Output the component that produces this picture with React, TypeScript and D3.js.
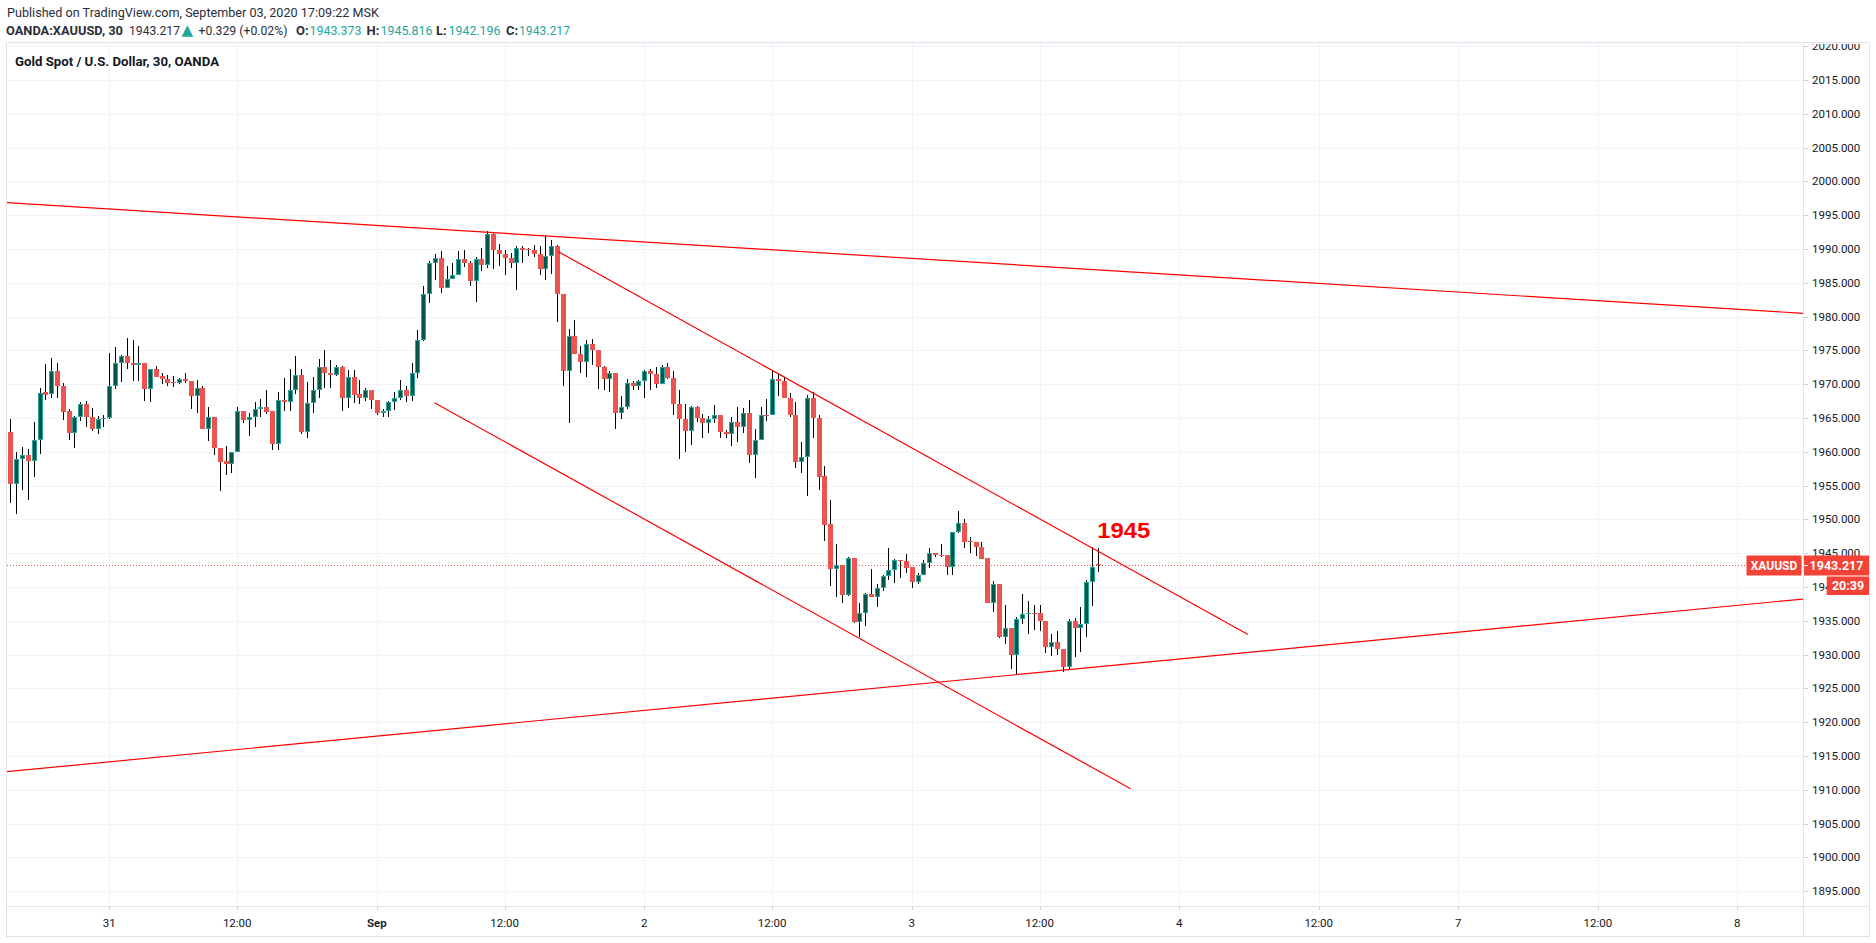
import * as d3 from "d3";

// OANDA:XAUUSD 30m, bars indexed from Aug 31 01:00 (index 0)
const FIRST_INDEX = -17;

const opens = [
  1963.0, 1955.3, 1959.0, 1959.5, 1958.7, 1961.7, 1968.8, 1968.5, 1971.9, 1969.7, 1966.0, 1962.8, 1965.1, 1967.0, 1965.2, 1963.4, 1964.8,
  1965.0, 1969.7, 1973.2, 1974.1, 1973.2, 1972.9, 1973.1, 1969.3, 1972.2, 1971.2, 1970.7, 1970.3, 1970.2, 1970.7, 1970.4, 1968.2,
  1969.5, 1963.4, 1965.2, 1960.6, 1958.6, 1958.2, 1959.9, 1966.1, 1964.7, 1965.1, 1966.4, 1966.6, 1966.0, 1961.1, 1967.7, 1967.3,
  1969.1, 1971.4, 1963.0, 1967.2, 1969.1, 1972.6, 1971.7, 1971.4, 1972.5, 1968.0, 1971.1, 1968.5, 1967.9, 1969.2, 1967.6, 1965.7,
  1966.1, 1967.3, 1968.0, 1969.1, 1968.2, 1971.6, 1976.5, 1983.3, 1987.9, 1988.6, 1984.3, 1985.5, 1986.2, 1988.5, 1988.0, 1985.2,
  1988.5, 1987.7, 1992.2, 1989.9, 1989.3, 1988.7, 1988.0, 1990.1, 1989.95, 1989.9, 1989.3, 1987.0, 1989.0, 1990.4, 1983.3, 1971.9,
  1977.2, 1974.5, 1973.3, 1975.9, 1975.0, 1972.6, 1970.7, 1971.6, 1965.7, 1966.7, 1970.2, 1969.8, 1970.4, 1971.9, 1971.5, 1970.0,
  1972.6, 1970.9, 1967.0, 1964.8, 1963.1, 1966.7, 1965.0, 1964.2, 1964.9, 1965.5, 1962.9, 1962.6, 1964.4, 1963.6, 1965.7, 1959.6,
  1961.8, 1965.5, 1965.4, 1970.7, 1970.4, 1968.0, 1965.4, 1958.5, 1959.2, 1968.0, 1965.0, 1956.4, 1949.3, 1942.6, 1943.3, 1938.8,
  1944.3, 1934.8, 1936.2, 1938.9, 1938.5, 1939.9, 1941.6, 1942.5, 1944.0, 1943.8, 1942.9, 1940.7, 1941.8, 1943.6, 1945.0, 1944.8,
  1944.7, 1943.0, 1948.2, 1949.4, 1946.8, 1946.6, 1945.9, 1944.3, 1937.7, 1940.5, 1932.6, 1933.9, 1930.0, 1935.2, 1936.0, 1936.2,
  1936.1, 1934.9, 1931.1, 1931.9, 1930.9, 1928.2, 1934.9, 1934.0, 1934.5, 1940.7, 1943.373,
];

const highs = [
  1964.8, 1960.0, 1960.7, 1960.4, 1964.4, 1969.5, 1973.0, 1973.9, 1973.1, 1970.2, 1966.3, 1965.3, 1967.3, 1967.5, 1966.5, 1965.3, 1965.4,
  1974.6, 1975.5, 1974.3, 1976.8, 1976.5, 1975.6, 1973.2, 1972.2, 1972.7, 1971.6, 1971.4, 1971.2, 1970.9, 1971.6, 1970.4, 1970.6,
  1969.7, 1966.6, 1965.2, 1960.6, 1960.9, 1959.9, 1966.6, 1966.1, 1965.8, 1967.4, 1967.8, 1969.1, 1966.0, 1968.8, 1970.9, 1972.2,
  1974.2, 1972.2, 1970.3, 1971.0, 1973.7, 1975.0, 1973.6, 1972.8, 1972.7, 1972.1, 1972.1, 1970.6, 1969.4, 1969.2, 1967.6, 1966.3,
  1967.5, 1968.9, 1970.6, 1969.7, 1973.2, 1978.0, 1984.5, 1988.2, 1989.3, 1989.7, 1987.5, 1988.0, 1989.7, 1989.9, 1988.2, 1988.8,
  1990.2, 1992.6, 1992.3, 1990.7, 1989.9, 1989.4, 1990.4, 1990.4, 1990.1, 1990.6, 1990.4, 1991.9, 1991.3, 1990.6, 1983.3, 1978.2,
  1979.5, 1975.7, 1976.6, 1976.7, 1975.0, 1972.7, 1972.0, 1971.6, 1968.3, 1970.7, 1970.5, 1970.6, 1972.1, 1972.2, 1972.6, 1972.9,
  1973.2, 1972.0, 1969.1, 1967.0, 1966.8, 1966.8, 1965.6, 1965.3, 1966.9, 1965.5, 1963.2, 1965.2, 1966.7, 1966.5, 1967.6, 1963.3,
  1966.7, 1967.8, 1972.0, 1971.5, 1971.0, 1968.7, 1967.4, 1961.4, 1968.4, 1968.9, 1965.5, 1957.9, 1952.8, 1946.3, 1943.3, 1944.5,
  1944.3, 1937.6, 1939.1, 1942.6, 1940.5, 1941.75, 1945.7, 1944.2, 1944.0, 1944.9, 1943.0, 1942.0, 1944.0, 1945.7, 1945.1, 1946.3,
  1944.7, 1948.2, 1951.2, 1950.0, 1947.4, 1946.6, 1946.7, 1944.3, 1940.9, 1940.5, 1937.4, 1933.9, 1935.5, 1938.9, 1937.9, 1937.4,
  1937.3, 1934.9, 1933.0, 1933.5, 1930.9, 1935.2, 1935.35, 1937.1, 1941.1, 1945.9, 1945.816,
];

const lows = [
  1952.5, 1950.8, 1954.3, 1952.8, 1956.2, 1959.7, 1967.6, 1968.0, 1967.9, 1964.7, 1961.8, 1960.5, 1964.5, 1963.6, 1963.1, 1962.6, 1963.7,
  1964.9, 1969.3, 1970.3, 1972.2, 1970.5, 1970.5, 1967.5, 1967.4, 1971.0, 1970.1, 1969.7, 1969.6, 1970.1, 1970.2, 1966.4, 1965.8,
  1963.3, 1961.6, 1959.6, 1954.2, 1956.5, 1956.9, 1959.9, 1964.2, 1962.3, 1963.6, 1965.1, 1965.6, 1960.2, 1960.3, 1966.0, 1966.0,
  1968.6, 1962.7, 1962.1, 1965.7, 1967.9, 1969.5, 1969.4, 1971.2, 1966.0, 1966.5, 1967.2, 1967.1, 1967.5, 1966.3, 1965.5, 1965.2,
  1965.2, 1966.2, 1967.6, 1967.4, 1967.5, 1970.9, 1976.4, 1982.0, 1985.4, 1983.5, 1984.3, 1985.5, 1986.1, 1987.3, 1984.5, 1982.2,
  1986.7, 1987.2, 1987.1, 1987.5, 1986.1, 1987.2, 1984.0, 1988.0, 1988.9, 1988.8, 1986.1, 1985.4, 1986.3, 1979.2, 1969.7, 1964.3,
  1974.5, 1971.7, 1971.0, 1972.9, 1969.3, 1969.2, 1968.8, 1963.3, 1964.9, 1966.3, 1969.2, 1969.1, 1968.0, 1969.2, 1969.5, 1970.0,
  1970.8, 1965.5, 1958.9, 1959.9, 1961.0, 1964.4, 1962.1, 1962.8, 1964.2, 1962.1, 1962.1, 1960.8, 1961.5, 1962.8, 1958.3, 1956.1,
  1961.7, 1964.6, 1965.4, 1968.2, 1967.9, 1965.2, 1957.6, 1956.9, 1953.4, 1962.1, 1954.3, 1946.8, 1940.1, 1938.5, 1937.6, 1938.7,
  1934.7, 1932.6, 1934.3, 1938.5, 1937.1, 1939.4, 1941.1, 1940.6, 1941.4, 1942.0, 1939.9, 1940.4, 1941.75, 1942.8, 1944.5, 1944.5,
  1941.75, 1941.75, 1948.0, 1945.7, 1945.1, 1944.6, 1944.1, 1937.6, 1936.3, 1932.4, 1931.6, 1927.8, 1927.2, 1934.6, 1933.0, 1933.6,
  1933.5, 1930.2, 1929.8, 1929.9, 1927.5, 1927.7, 1929.7, 1930.4, 1932.6, 1937.2, 1942.196,
];

const closes = [
  1955.3, 1959.0, 1959.5, 1958.7, 1961.7, 1968.7, 1968.4, 1971.9, 1969.7, 1965.9, 1962.8, 1965.1, 1967.0, 1965.2, 1963.4, 1964.8, 1965.0,
  1969.7, 1973.2, 1974.1, 1973.2, 1972.9, 1973.1, 1969.3, 1972.2, 1971.1, 1970.7, 1970.2, 1970.2, 1970.7, 1970.4, 1968.2, 1969.5,
  1963.4, 1965.2, 1960.5, 1958.5, 1958.2, 1959.9, 1966.1, 1964.7, 1965.1, 1966.4, 1966.6, 1965.9, 1961.1, 1967.6, 1967.3, 1969.1,
  1971.4, 1963.0, 1967.2, 1969.1, 1972.6, 1971.7, 1971.4, 1972.5, 1968.0, 1971.1, 1968.4, 1967.9, 1969.2, 1967.6, 1965.7, 1966.1,
  1967.3, 1968.0, 1969.1, 1968.2, 1971.6, 1976.5, 1983.3, 1987.9, 1988.6, 1984.3, 1985.5, 1986.2, 1988.5, 1988.0, 1985.2, 1988.5,
  1987.7, 1992.2, 1989.9, 1989.3, 1988.7, 1988.0, 1990.1, 1989.9, 1989.9, 1989.3, 1987.0, 1989.0, 1990.4, 1983.3, 1971.9, 1977.2,
  1974.5, 1973.3, 1975.9, 1975.0, 1972.6, 1970.7, 1971.6, 1965.7, 1966.7, 1970.2, 1969.8, 1970.4, 1971.9, 1971.5, 1970.0, 1972.6,
  1970.9, 1967.0, 1964.8, 1963.1, 1966.7, 1965.0, 1964.2, 1964.9, 1965.5, 1962.9, 1962.6, 1964.4, 1963.6, 1965.7, 1959.6, 1961.8,
  1965.5, 1965.4, 1970.7, 1970.4, 1968.0, 1965.4, 1958.5, 1959.2, 1968.0, 1965.0, 1956.2, 1949.2, 1942.6, 1943.3, 1938.8, 1944.3,
  1934.8, 1936.2, 1938.9, 1938.5, 1939.9, 1941.6, 1942.5, 1944.0, 1943.8, 1942.8, 1940.7, 1941.8, 1943.6, 1945.0, 1944.8, 1944.6,
  1943.0, 1948.2, 1949.4, 1946.7, 1946.6, 1945.9, 1944.2, 1937.7, 1940.5, 1932.6, 1933.9, 1930.0, 1935.2, 1936.0, 1936.2, 1936.0,
  1934.9, 1931.1, 1931.9, 1930.9, 1928.2, 1934.9, 1934.0, 1934.5, 1940.7, 1942.888, 1943.217,
];

const timeTickIndex = [0, 22, 46, 68, 92, 114, 138, 160, 184, 208, 232, 256, 280];
const timeTickLabels = ["31", "12:00", "Sep", "12:00", "2", "12:00", "3", "12:00", "4", "12:00", "7", "12:00", "8"];
const priceTicks = d3.range(1895, 2021, 5);

const lastPrice = 1943.217;

// drawn lines: [bar index, price]
const trendLines = [
  [[-17.6, 1996.85], [291.3, 1980.49]],
  [[77.17, 1989.63], [195.84, 1932.97]],
  [[55.92, 1967.26], [175.65, 1910.15]],
  [[-17.6, 1912.68], [291.3, 1938.22]],
];
const note = { index: 169.9, price: 1947.2, text: "1945" };

const RED = "#ef5350";
const GREEN = "#26a69a";
const GREEN_FILL = "#075548";
const GRID = "#f0f3fa";
const BORDER = "#e0e3eb";
const TEXT = "#131722";
const FONT = "Roboto, 'Open Sans', sans-serif";

export default function App() {
  const W = 1876;
  const H = 943;
  const pane = { left: 7, right: 1803, top: 43, bottom: 907 };
  const axisRight = 1869;
  const axisBottom = 936;

  const x = d3.scaleLinear().domain([0, 138]).range([109.3, 911.7]);
  const y = d3.scaleLinear().domain([1895, 2020]).range([891.2, 46.2]);

  const candles = opens.map((o, k) => ({
    i: FIRST_INDEX + k,
    o,
    h: highs[k],
    l: lows[k],
    c: closes[k],
  }));

  const yLast = Math.round(y(lastPrice));

  return (
    <svg
      width={W}
      height={H}
      style={{ position: "absolute", left: 0, top: 0, background: "#fff" }}
      fontFamily={FONT}
    >
      <defs>
        <clipPath id="pane">
          <rect x={pane.left} y={pane.top} width={pane.right - pane.left} height={pane.bottom - pane.top} />
        </clipPath>
        <clipPath id="yaxis">
          <rect x={pane.right} y={pane.top + 1} width={axisRight - pane.right} height={pane.bottom - pane.top - 1} />
        </clipPath>
      </defs>

      {/* header */}
      <text x={7} y={17.3} fontSize={13} fill="#2a2e39" textLength={372} lengthAdjust="spacingAndGlyphs">
        Published on TradingView.com, September 03, 2020 17:09:22 MSK
      </text>
      <g fontSize={13} fill="#2a2e39">
        <text x={6} y={34.5} fontWeight={700} textLength={117} lengthAdjust="spacingAndGlyphs">OANDA:XAUUSD, 30</text>
        <text x={129} y={34.5} textLength={51} lengthAdjust="spacingAndGlyphs">1943.217</text>
        <text x={181.5} y={35} fill={GREEN} fontSize={15} fontFamily="'DejaVu Sans', sans-serif">▲</text>
        <text x={198.5} y={34.5} textLength={89} lengthAdjust="spacingAndGlyphs">+0.329 (+0.02%)</text>
        <text x={296} y={34.5} fontWeight={700}>O:</text>
        <text x={309.5} y={34.5} fill={GREEN} textLength={52} lengthAdjust="spacingAndGlyphs">1943.373</text>
        <text x={366.5} y={34.5} fontWeight={700}>H:</text>
        <text x={380.5} y={34.5} fill={GREEN} textLength={52} lengthAdjust="spacingAndGlyphs">1945.816</text>
        <text x={436} y={34.5} fontWeight={700}>L:</text>
        <text x={448.5} y={34.5} fill={GREEN} textLength={52} lengthAdjust="spacingAndGlyphs">1942.196</text>
        <text x={506} y={34.5} fontWeight={700}>C:</text>
        <text x={519} y={34.5} fill={GREEN} textLength={51} lengthAdjust="spacingAndGlyphs">1943.217</text>
      </g>

      {/* grid */}
      <g stroke={GRID} strokeWidth={1}>
        {priceTicks.map((p) => (
          <line key={p} x1={pane.left} x2={pane.right} y1={Math.round(y(p)) + 0.5} y2={Math.round(y(p)) + 0.5} />
        ))}
        {timeTickIndex.map((t) => (
          <line key={t} x1={Math.round(x(t)) + 0.5} x2={Math.round(x(t)) + 0.5} y1={pane.top} y2={pane.bottom} />
        ))}
      </g>

      <text x={15} y={65.5} fontSize={13} fontWeight={700} fill={TEXT} textLength={204} lengthAdjust="spacingAndGlyphs">
        Gold Spot / U.S. Dollar, 30, OANDA
      </text>

      <g clipPath="url(#pane)">
        {/* last price line */}
        <line
          x1={pane.left}
          x2={pane.right}
          y1={yLast + 0.5}
          y2={yLast + 0.5}
          stroke={RED}
          strokeDasharray="1,2"
        />

        {/* candles */}
        {candles.map((d) => {
          const cx = Math.round(x(d.i));
          const up = d.c >= d.o;
          const top = Math.round(y(Math.max(d.o, d.c)));
          let bot = Math.round(y(Math.min(d.o, d.c)));
          if (bot - top < 1) bot = top + 1;
          const hi = Math.round(y(d.h));
          const lo = Math.round(y(d.l));
          return (
            <g key={d.i}>
              <line x1={cx + 0.5} x2={cx + 0.5} y1={hi} y2={lo} stroke="#000" />
              {bot - top >= 3 ? (
                <rect
                  x={cx - 1.5}
                  y={top + 0.5}
                  width={4}
                  height={bot - top - 1}
                  fill={up ? GREEN_FILL : RED}
                  stroke={up ? GREEN : RED}
                />
              ) : (
                <rect x={cx - 2} y={top} width={5} height={bot - top} fill={up ? GREEN : RED} />
              )}
            </g>
          );
        })}

        {/* trend lines */}
        {trendLines.map(([a, b], k) => (
          <line key={k} x1={x(a[0])} y1={y(a[1])} x2={x(b[0])} y2={y(b[1])} stroke="#ff0000" strokeWidth={1.2} />
        ))}

        <text
          x={x(note.index)}
          y={y(note.price)}
          fontSize={22}
          fontWeight={700}
          fill="#ff0000"
          fontFamily="'Liberation Sans', Arial, sans-serif"
          textLength={53}
          lengthAdjust="spacingAndGlyphs"
        >
          {note.text}
        </text>
      </g>

      {/* frame */}
      <g stroke={BORDER} strokeWidth={1} fill="none">
        <rect x={pane.left - 0.5} y={pane.top - 0.5} width={axisRight - pane.left + 1} height={axisBottom - pane.top + 1} />
        <line x1={pane.right + 0.5} x2={pane.right + 0.5} y1={pane.top} y2={axisBottom} />
        <line x1={pane.left} x2={axisRight} y1={pane.bottom - 0.5} y2={pane.bottom - 0.5} />
      </g>

      {/* price axis */}
      <g clipPath="url(#yaxis)">
        {priceTicks.map((p) => (
          <g key={p}>
            <line
              x1={pane.right + 1}
              x2={pane.right + 5}
              y1={Math.round(y(p)) + 0.5}
              y2={Math.round(y(p)) + 0.5}
              stroke="#c9ccd4"
            />
            <text x={1812} y={y(p)} dy="0.35em" fontSize={11.5} fill={TEXT}>
              {d3.format(".3f")(p)}
            </text>
          </g>
        ))}
      </g>

      {/* time axis */}
      <g>
        {timeTickIndex.map((t, k) => (
          <g key={t}>
            <line
              x1={Math.round(x(t)) + 0.5}
              x2={Math.round(x(t)) + 0.5}
              y1={pane.bottom}
              y2={pane.bottom + 3}
              stroke="#c9ccd4"
            />
            <text
              x={x(t)}
              y={926.5}
              textAnchor="middle"
              fontSize={11.5}
              fontWeight={timeTickLabels[k] === "Sep" ? 600 : 400}
              fill={TEXT}
            >
              {timeTickLabels[k]}
            </text>
          </g>
        ))}
      </g>

      {/* last price labels */}
      <rect x={1746.5} y={yLast - 9.5} width={55} height={20} fill="#f44336" />
      <text x={1774} y={yLast + 0.5} dy="0.35em" textAnchor="middle" fontSize={12} fontWeight={700} fill="#fff">
        XAUUSD
      </text>
      <rect x={1804} y={yLast - 9.5} width={axisRight - 1804} height={20} fill="#f44336" />
      <line x1={1803} x2={1808} y1={yLast + 0.5} y2={yLast + 0.5} stroke="#fff" />
      <text x={1836.5} y={yLast + 0.5} dy="0.35em" textAnchor="middle" fontSize={12.5} fontWeight={700} fill="#fff">
        {d3.format(".3f")(lastPrice)}
      </text>
      <rect x={1826.7} y={yLast + 11.5} width={axisRight - 1826.7} height={18.5} fill="#f44336" />
      <text x={1848} y={yLast + 21} dy="0.35em" textAnchor="middle" fontSize={12.5} fontWeight={700} fill="#fff">
        20:39
      </text>
    </svg>
  );
}
